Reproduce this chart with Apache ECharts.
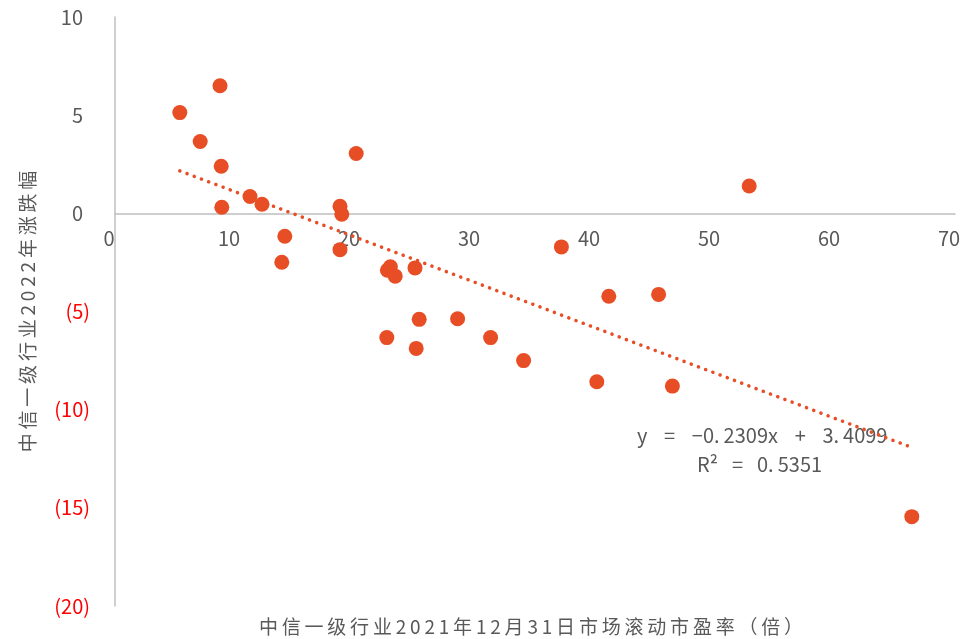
<!DOCTYPE html>
<html><head><meta charset="utf-8">
<script src="https://cdn.jsdelivr.net/npm/echarts@6/dist/echarts.min.js"></script>
<style>html,body{margin:0;padding:0;background:#fff}#c{width:971px;height:639px}</style>
</head><body><div id="c"></div>
<script>
// PE (x) and 2022 change % (y) for 30 CITIC level-1 industries
const peValues = [5.4, 8.75, 7.1, 8.85, 8.9, 11.25, 12.25, 14.15, 13.9, 20.1, 18.75, 18.9, 18.75, 22.7, 22.95, 23.35, 25.0, 22.65, 25.35, 25.1, 28.55, 31.3, 34.05, 37.2, 40.15, 41.15, 45.3, 46.45, 52.85, 66.4];
const chgValues = [5.13, 6.5, 3.66, 2.4, 0.31, 0.86, 0.46, -1.17, -2.49, 3.05, 0.36, -0.05, -1.85, -2.9, -2.72, -3.2, -2.78, -6.33, -5.4, -6.88, -5.37, -6.33, -7.5, -1.71, -8.58, -4.22, -4.13, -8.8, 1.39, -15.45];
const trendSlope = -0.2309;
const trendIntercept = 3.4099;
const xTicks = [0, 10, 20, 30, 40, 50, 60, 70];
const yTicks = [-20, -15, -10, -5, 0, 5, 10];
const xTitle = '中信一级行业2021年12月31日市场滚动市盈率（倍）';
const yTitle = '中信一级行业2022年涨跌幅';
const G = '\u2002\u2004';
const eqText = 'y' + G + '=' + G + '−0.\u20092309x' + G + '+' + G + '3.\u20094099';
const r2Text = 'R²\u2002\u2009=\u2002\u20090.\u20095351';

const spaced = s => Array.from(s).join('\u2009');
const pts = peValues.map((x, i) => [x, chgValues[i]]);
const xMin = Math.min(...peValues), xMax = Math.max(...peValues);
const trend = [[xMin, trendSlope * xMin + trendIntercept], [xMax, trendSlope * xMax + trendIntercept]];

const FONT = '"Noto Sans CJK SC", "Noto Sans", sans-serif';
const GRAY = '#595959';
const ORANGE = '#E84E25';
const GRID = {left: 115, right: 16, top: 17, bottom: 33};
const plotH = 639 - GRID.top - GRID.bottom;
const yMin = yTicks[0], yMax = yTicks[yTicks.length - 1];
// move the x axis up to the y = 0 level
const zeroOffset = -plotH * (0 - yMin) / (yMax - yMin);

const chart = echarts.init(document.getElementById('c'));
chart.setOption({
  animation: false,
  grid: Object.assign({outerBoundsMode: 'none', containLabel: false}, GRID),
  xAxis: {
    type: 'value', min: xTicks[0], max: xTicks[xTicks.length - 1], interval: 10,
    position: 'bottom', offset: zeroOffset,
    axisLine: {onZero: false, lineStyle: {color: '#BFBFBF', width: 1.5}},
    axisTick: {show: false}, splitLine: {show: false},
    axisLabel: {fontSize: 20, color: GRAY, fontFamily: FONT, margin: 15, padding: [0, 12, 0, 0]}
  },
  yAxis: {
    type: 'value', min: yMin, max: yMax, interval: 5,
    axisLine: {show: true, onZero: false, lineStyle: {color: '#BFBFBF', width: 1.5}},
    axisTick: {show: false}, splitLine: {show: false},
    axisLabel: {
      fontSize: 20, fontFamily: FONT, margin: 25,
      formatter: v => v < 0 ? '(' + (-v) + ')' : '{p|' + v + '}',
      color: v => (Number(v) < 0 ? '#FF0000' : GRAY),
      rich: {p: {fontSize: 20, fontFamily: FONT, color: GRAY, padding: [0, 7, 0, 0]}}
    },
    name: spaced(yTitle), nameLocation: 'middle', nameGap: 78, nameRotate: 90,
    nameTextStyle: {fontSize: 19, color: GRAY, fontFamily: FONT}
  },
  series: [{
    type: 'line', data: trend, symbol: 'none', silent: true, z: 1,
    lineStyle: {color: ORANGE, width: 3.5, type: [0.1, 7.6], cap: 'round'}
  }, {
    type: 'scatter', data: pts, symbolSize: 15, z: 2,
    itemStyle: {color: ORANGE, opacity: 1}
  }],
  graphic: [
    {type: 'text', x: 531, y: 627, style: {text: spaced(xTitle), fontSize: 19, fill: GRAY, fontFamily: FONT, align: 'center', verticalAlign: 'middle'}},
    {type: 'text', x: 637, y: 435, style: {text: eqText, fontSize: 20, fill: GRAY, fontFamily: FONT, align: 'left', verticalAlign: 'middle'}},
    {type: 'text', x: 697, y: 464, style: {text: r2Text, fontSize: 20, fill: GRAY, fontFamily: FONT, align: 'left', verticalAlign: 'middle'}}
  ]
});
</script></body></html>
